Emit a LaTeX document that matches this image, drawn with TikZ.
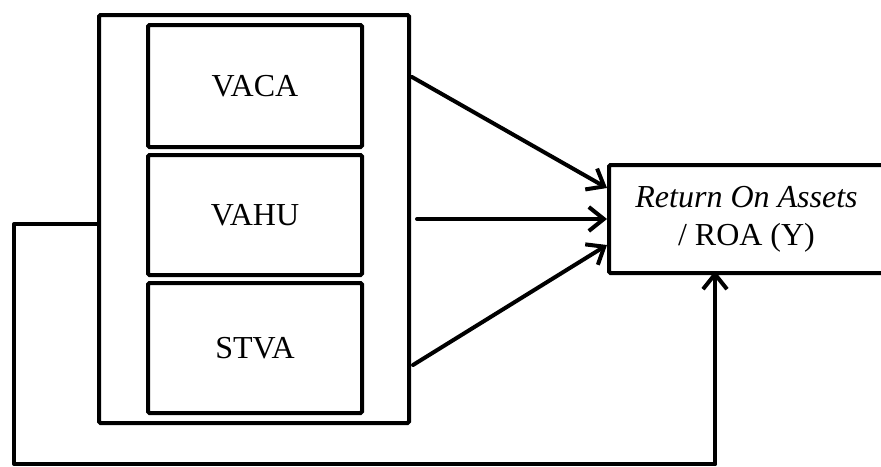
\documentclass[tikz,border=0pt]{standalone}
\usepackage{fontspec}
\setmainfont{Liberation Serif}
\usetikzlibrary{arrows.meta}
\begin{document}
\begin{tikzpicture}[x=1pt,y=-1pt,
  box/.style={draw,line width=4pt,rounded corners=1.5pt,minimum width=214pt,align=center,inner sep=0pt,font=\fontsize{32}{38}\selectfont},
  outerbox/.style={draw,line width=4pt,rounded corners=1.5pt,inner sep=0pt},
  link/.style={line width=4pt,line cap=round,-{Straight Barb[length=15pt,width=24pt,line width=4pt]}},
  fb/.style={line width=4pt,line cap=round,line join=round}]
\useasboundingbox (0,0) rectangle (881,466);
\begin{scope}
\clip (0,0) rectangle (881,466);
\node[outerbox,minimum width=310pt,minimum height=408pt] (outer) at (254,219) {};
\node[box,minimum height=122pt] (vaca) at (255,86) {VACA};
\node[box,minimum height=120pt] (vahu) at (255,215) {VAHU};
\node[box,minimum height=130pt] (stva) at (255,348) {STVA};
\node[box,minimum width=275pt,minimum height=108pt] (roa) at (746.5,219) {\textit{Return On Assets}\\/ ROA (Y)};
\coordinate (s1) at (412,77);
\coordinate (s2) at (417,219);
\coordinate (s3) at (413,365);
\coordinate (e1) at (607,188);
\coordinate (e2) at (607,219);
\coordinate (e3) at (607,245);
\draw[link] (s1) -- (e1);
\draw[link] (s2) -- (e2);
\draw[link] (s3) -- (e3);
\coordinate (c1) at (14,224);
\coordinate (c2) at (14,464);
\coordinate (c3) at (715,464);
\coordinate (c4) at (715,271);
\draw[fb] (outer.west |- c1) -- (c1) -- (c2) -- (c3);
\draw[link] (c3) -- (c4);
\end{scope}
\end{tikzpicture}
\end{document}
